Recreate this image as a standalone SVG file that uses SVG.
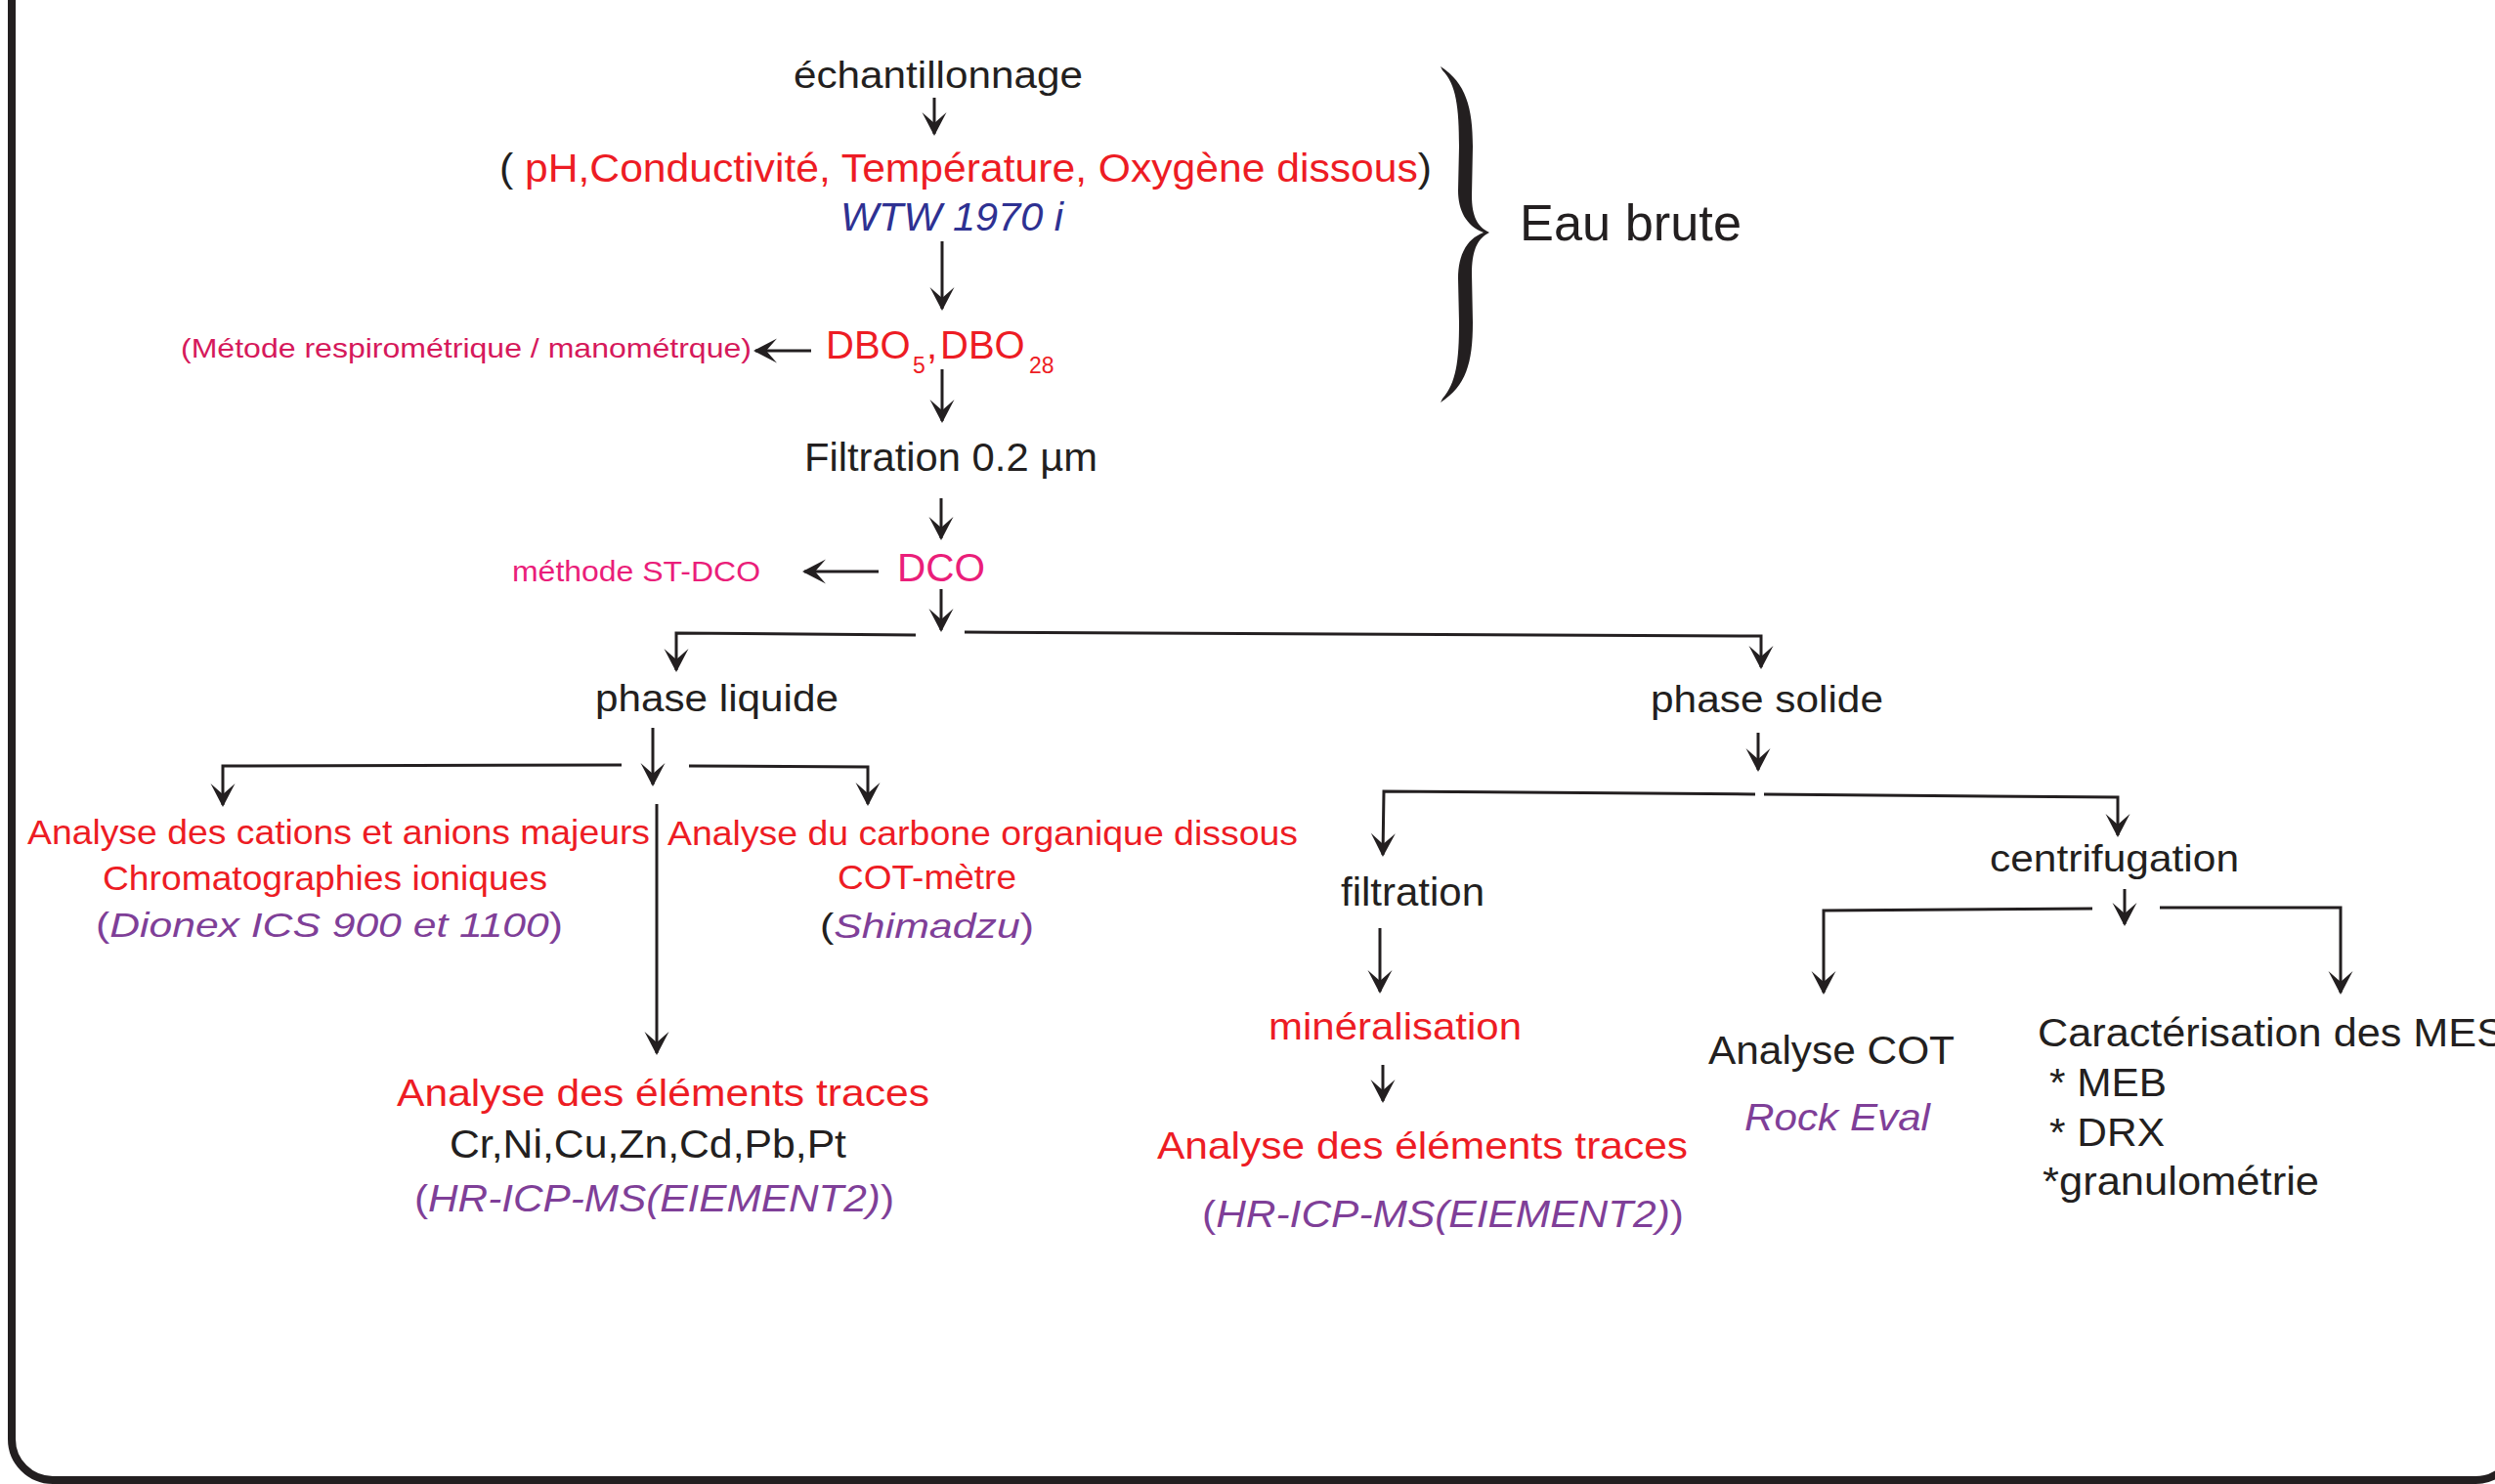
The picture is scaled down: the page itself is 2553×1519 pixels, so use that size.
<svg xmlns="http://www.w3.org/2000/svg" width="2553" height="1519" viewBox="0 0 2553 1519">
<style>
text{font-family:"Liberation Sans",Arial,sans-serif;}
.k{fill:#231f20}
.r{fill:#ed1c24}
.b{fill:#2e3192}
.p{fill:#7f3f98}
.pk{fill:#ea1e7a}
.cr{fill:#d6195b}
.i{font-style:italic}
.ln{fill:none;stroke:#231f20;stroke-width:3.2}
.ar{fill:none;stroke:#231f20;stroke-width:3;marker-end:url(#ah)}
</style>
<defs>
<marker id="ah" markerUnits="userSpaceOnUse" viewBox="-24 -13 27 26" markerWidth="27" markerHeight="26" refX="0" refY="0" orient="auto">
<path d="M2,0 L-22,-12.5 L-11,0 L-22,12.5 Z" fill="#231f20"/>
</marker>
</defs>
<rect x="12" y="-100" width="2563" height="1615" rx="42" fill="none" stroke="#231f20" stroke-width="8"/>
<g id="connectors">
<line class="ar" x1="956" y1="100" x2="956" y2="137"/>
<line class="ar" x1="964" y1="247" x2="964" y2="316"/>
<line class="ar" x1="830" y1="359" x2="773" y2="359"/>
<line class="ar" x1="964" y1="378" x2="964" y2="431"/>
<line class="ar" x1="963" y1="510" x2="963" y2="551"/>
<line class="ar" x1="899" y1="585" x2="823" y2="585"/>
<line class="ar" x1="963" y1="603" x2="963" y2="645"/>
<polyline class="ar" points="937,650 692,648 692,686"/>
<polyline class="ar" points="987,647 1802,651 1802,683"/>
<line class="ar" x1="668" y1="745" x2="668" y2="803"/>
<polyline class="ar" points="636,783 228,784 228,824"/>
<polyline class="ar" points="705,784 888,785 888,823"/>
<line class="ar" x1="672" y1="823" x2="672" y2="1078"/>
<line class="ar" x1="1799" y1="750" x2="1799" y2="788"/>
<polyline class="ar" points="1796,813 1416,810 1415,875"/>
<polyline class="ar" points="1805,813 2167,816 2167,855"/>
<line class="ar" x1="1412" y1="950" x2="1412" y2="1015"/>
<line class="ar" x1="1415" y1="1090" x2="1415" y2="1127"/>
<line class="ar" x1="2174" y1="910" x2="2174" y2="946"/>
<polyline class="ar" points="2141,930 1866,932 1866,1016"/>
<polyline class="ar" points="2210,929 2395,929 2395,1016"/>
</g>
<g id="brace">
<path d="M1474,68 C1500,85 1507,110 1507,150 L1506,200 C1506,222 1512,232 1524,238 C1512,244 1506,256 1506,280 L1507,330 C1507,372 1500,395 1474,412 L1476,408 C1490,392 1493,370 1493,330 L1492,285 C1492,262 1500,245 1518,238 C1500,231 1492,215 1492,195 L1493,150 C1493,110 1490,86 1476,72 Z" fill="#231f20"/>
</g>
<g id="eau-brute"><text class="k" x="1555" y="246" font-size="52" textLength="227" lengthAdjust="spacingAndGlyphs">Eau brute</text></g>
<g id="echantillonnage"><text class="k" x="812" y="90" font-size="38" textLength="296" lengthAdjust="spacingAndGlyphs">échantillonnage</text></g>
<g id="parametres">
<text x="511" y="186" font-size="40" textLength="954" lengthAdjust="spacingAndGlyphs"><tspan class="k">( </tspan><tspan class="r">pH,Conductivité, Température, Oxygène dissous</tspan><tspan class="k">)</tspan></text>
<text class="b i" x="860" y="236" font-size="40" textLength="228" lengthAdjust="spacingAndGlyphs">WTW 1970 i</text>
</g>
<g id="dbo">
<text class="r" font-size="40" y="367"><tspan x="845">DBO</tspan><tspan x="934" y="382" font-size="23">5</tspan><tspan x="948" y="367">,</tspan><tspan x="962" y="367">DBO</tspan><tspan x="1053" y="382" font-size="23">28</tspan></text>
</g>
<g id="methode-respi"><text class="cr" x="185" y="366" font-size="28" textLength="584" lengthAdjust="spacingAndGlyphs">(Métode respirométrique / manométrque)</text></g>
<g id="filtration-02"><text class="k" x="823" y="482" font-size="40" textLength="300" lengthAdjust="spacingAndGlyphs">Filtration 0.2 µm</text></g>
<g id="dco"><text class="pk" x="918" y="595" font-size="40" textLength="90" lengthAdjust="spacingAndGlyphs">DCO</text></g>
<g id="methode-stdco"><text class="pk" x="524" y="595" font-size="30" textLength="254" lengthAdjust="spacingAndGlyphs">méthode ST-DCO</text></g>
<g id="phase-liquide"><text class="k" x="609" y="728" font-size="38" textLength="249" lengthAdjust="spacingAndGlyphs">phase liquide</text></g>
<g id="phase-solide"><text class="k" x="1689" y="729" font-size="38" textLength="238" lengthAdjust="spacingAndGlyphs">phase solide</text></g>
<g id="cations">
<text class="r" x="28" y="864" font-size="35" textLength="637" lengthAdjust="spacingAndGlyphs">Analyse des cations et anions majeurs</text>
<text class="r" x="105" y="911" font-size="35" textLength="455" lengthAdjust="spacingAndGlyphs">Chromatographies ioniques</text>
<text class="p" x="98" y="959" font-size="35" textLength="478" lengthAdjust="spacingAndGlyphs">(<tspan class="i">Dionex ICS 900 et 1100</tspan>)</text>
</g>
<g id="carbone">
<text class="r" x="683" y="865" font-size="35" textLength="645" lengthAdjust="spacingAndGlyphs">Analyse du carbone organique dissous</text>
<text class="r" x="857" y="910" font-size="35" textLength="183" lengthAdjust="spacingAndGlyphs">COT-mètre</text>
<text x="839" y="960" font-size="35" textLength="219" lengthAdjust="spacingAndGlyphs"><tspan class="k">(</tspan><tspan class="p i">Shimadzu</tspan><tspan class="p">)</tspan></text>
</g>
<g id="traces-liquide">
<text class="r" x="406" y="1132" font-size="39" textLength="545" lengthAdjust="spacingAndGlyphs">Analyse des éléments traces</text>
<text class="k" x="460" y="1185" font-size="40" textLength="406" lengthAdjust="spacingAndGlyphs">Cr,Ni,Cu,Zn,Cd,Pb,Pt</text>
<text class="p" x="424" y="1240" font-size="38" textLength="491" lengthAdjust="spacingAndGlyphs">(<tspan class="i">HR-ICP-MS(EIEMENT2)</tspan>)</text>
</g>
<g id="filtration"><text class="k" x="1372" y="927" font-size="40" textLength="147" lengthAdjust="spacingAndGlyphs">filtration</text></g>
<g id="mineralisation"><text class="r" x="1298" y="1064" font-size="39" textLength="259" lengthAdjust="spacingAndGlyphs">minéralisation</text></g>
<g id="traces-solide">
<text class="r" x="1184" y="1186" font-size="39" textLength="543" lengthAdjust="spacingAndGlyphs">Analyse des éléments traces</text>
<text class="p" x="1230" y="1256" font-size="38" textLength="493" lengthAdjust="spacingAndGlyphs">(<tspan class="i">HR-ICP-MS(EIEMENT2)</tspan>)</text>
</g>
<g id="centrifugation"><text class="k" x="2036" y="892" font-size="39" textLength="255" lengthAdjust="spacingAndGlyphs">centrifugation</text></g>
<g id="analyse-cot">
<text class="k" x="1748" y="1089" font-size="40" textLength="252" lengthAdjust="spacingAndGlyphs">Analyse COT</text>
<text class="p i" x="1785" y="1157" font-size="39" textLength="190" lengthAdjust="spacingAndGlyphs">Rock Eval</text>
</g>
<g id="caracterisation">
<text class="k" x="2085" y="1071" font-size="40" textLength="478" lengthAdjust="spacingAndGlyphs">Caractérisation des MES</text>
<text class="k" x="2097" y="1122" font-size="40" textLength="120" lengthAdjust="spacingAndGlyphs">* MEB</text>
<text class="k" x="2097" y="1173" font-size="40" textLength="118" lengthAdjust="spacingAndGlyphs">* DRX</text>
<text class="k" x="2090" y="1223" font-size="40" textLength="283" lengthAdjust="spacingAndGlyphs">*granulométrie</text>
</g>
</svg>
